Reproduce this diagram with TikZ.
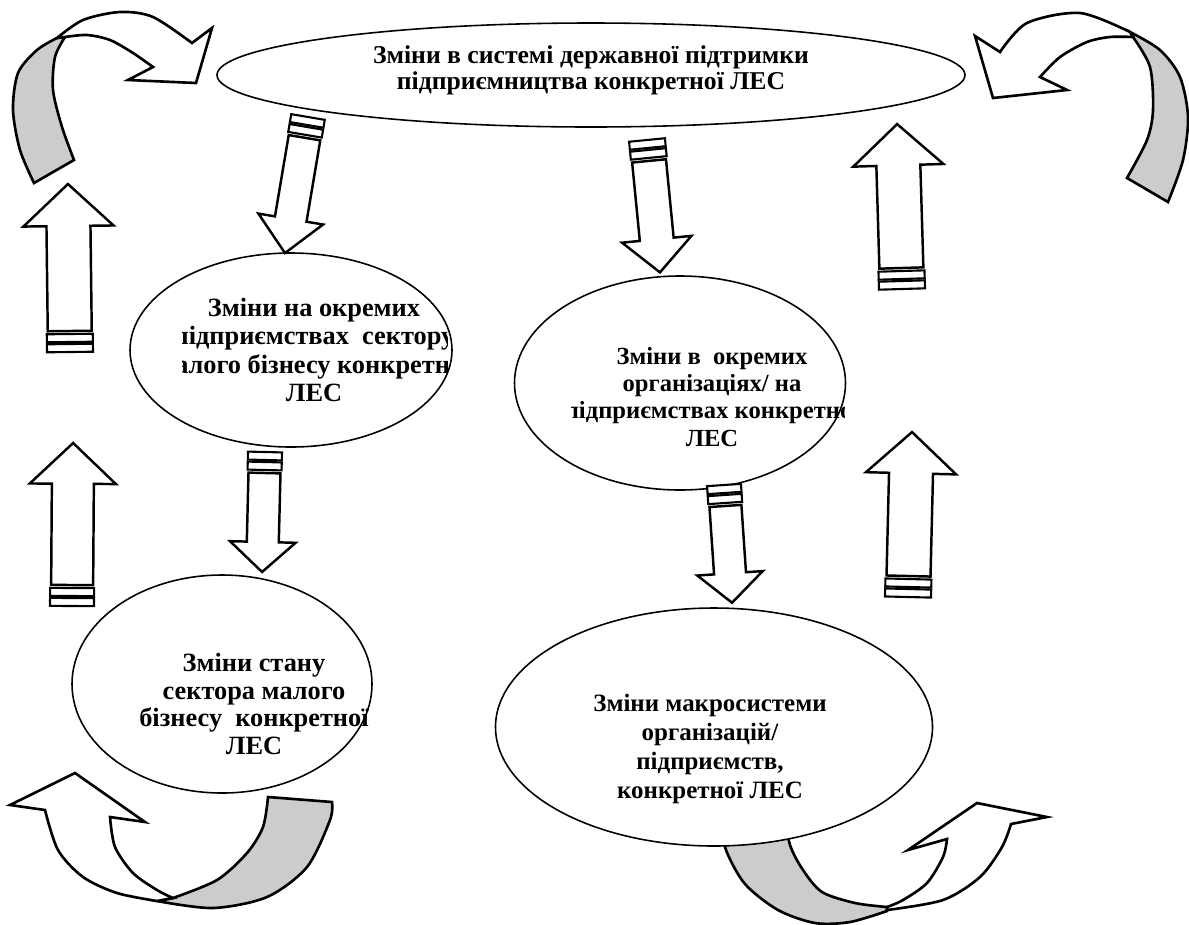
\documentclass[tikz,border=0pt]{standalone}
\usepackage{fontspec}
\setmainfont{Liberation Serif}
\usetikzlibrary{shapes.geometric}

\def\px{0.02cm}
% block arrow: (tail centre)(angle:length:half width of shaft)
\def\blockarrow(#1)(#2:#3:#4){%
	\begin{scope}[shift={(#1)}, rotate=#2]
		\draw[stripe] (-#4-1, 0) rectangle (#4+1, 8);
		\draw[stripe] (-#4-1, 10) rectangle (#4+1, 18);
		\draw[blockline] (-#4, 21) -- (-#4, 0.75*#3) -- (-2.05*#4, 0.75*#3) -- (0, #3)
			-- (2.05*#4, 0.75*#3) -- (#4, 0.75*#3) -- (#4, 21) -- cycle;
	\end{scope}}

\tikzset{
	stage/.style={draw, ellipse, line width=0.9pt, fill=white, inner sep=0pt},
	caption/.style={align=center, inner sep=0pt},
	blockline/.style={draw, line width=1.4pt, fill=white, line join=miter},
	stripe/.style={draw, line width=1.2pt, fill=white},
	ribbon/.style={draw, line width=1.5pt, fill=white, line join=miter},
	ribbonback/.style={ribbon, fill=black!20}
}

\begin{document}
\begin{tikzpicture}[x=0.02cm, y=-0.02cm]
	\useasboundingbox (0,0) rectangle (1189,924);
	
	%%%%% curved arrows %%%%%
	
	% top left
	\draw[ribbonback] plot[smooth] coordinates {(34,183) (20,150) (13,110) (18,73) (37,50) (57,38)}
		-- plot[smooth] coordinates {(65,37) (55,57) (53,90) (62,127) (74,160)} -- cycle;
	\draw[ribbon] plot[smooth] coordinates {(57,38) (83,20) (120,12) (153,17) (192,43)}
		-- (212,28) -- (196,83) -- (128,80) -- (153,67)
		-- plot[smooth] coordinates {(153,67) (133,53) (110,40) (87,35) (65,37)} -- cycle;
	
	% top right
	\draw[ribbonback] plot[smooth] coordinates {(1168,202) (1183,160) (1188,117) (1180,77) (1160,50) (1130,32)}
		-- plot[smooth] coordinates {(1133,37) (1150,67) (1153,110) (1147,140) (1127,178)} -- cycle;
	\draw[ribbon] plot[smooth] coordinates {(1130,32) (1080,13) (1027,23) (1000,52)}
		-- (975,36) -- (993,98) -- (1067,90) -- (1040,77)
		-- plot[smooth] coordinates {(1040,77) (1060,57) (1087,42) (1110,37) (1133,37)} -- cycle;
	
	% bottom left
	\draw[ribbonback] plot[smooth] coordinates {(157,901) (213,908) (267,897) (307,867) (330,820) (332,802)}
		-- plot[smooth] coordinates {(268,797) (263,827) (247,853) (217,880) (173,898)} -- cycle;
	\draw[ribbon] (10,805) -- (75,773) -- (145,822) -- (110,817)
		-- plot[smooth] coordinates {(110,817) (115,847) (133,873) (157,890) (173,898)}
		-- plot[smooth] coordinates {(157,901) (117,893) (83,877) (58,850) (45,810)} -- cycle;
	
	% bottom right
	\draw[ribbonback] plot[smooth] coordinates {(887,911) (850,922) (815,923) (778,910) (745,884) (726,850) (720,818)}
		-- plot[smooth] coordinates {(784,812) (790,845) (803,870) (822,892) (855,903) (887,907)} -- cycle;
	\draw[ribbon] (977,803) -- (1047,817) -- (1011,824)
		-- plot[smooth] coordinates {(1011,824) (1002,847) (980,877) (943,900) (887,910)}
		-- plot[smooth] coordinates {(887,907) (903,900) (927,883) (943,857) (947,839)}
		-- (908,850) -- cycle;
	
	%%%%% ellipses %%%%%
	
	\node[stage, minimum width=748*\px, minimum height=104*\px] (gov) at (591,75) {};
	\node[stage, minimum width=322*\px, minimum height=194*\px] (firms) at (291,350) {};
	\node[stage, minimum width=331*\px, minimum height=214*\px] (orgs) at (680,383) {};
	\node[stage, minimum width=300*\px, minimum height=218*\px] (sector) at (222,684) {};
	\node[stage, minimum width=437*\px, minimum height=238*\px] (macro) at (714,727) {};
	
	\node[caption, font=\fontsize{14.6}{14.8}\selectfont\bfseries] (gov-text) at (591,70)
		{Зміни в системі державної підтримки\\підприємництва конкретної ЛЕС};
	\begin{scope}
		\clip (182,280) rectangle (447,425);
		\node[caption, font=\fontsize{15}{16.3}\selectfont\bfseries] (firms-text) at (314,350)
			{Зміни на окремих\\підприємствах\ \ сектору\\малого бізнесу конкретної\\ЛЕС};
	\end{scope}
	\begin{scope}
		\clip (571,330) rectangle (844,470);
		\node[caption, font=\fontsize{14}{15.4}\selectfont\bfseries] (orgs-text) at (712,397)
			{Зміни в\ \ окремих\\організаціях/ на\\підприємствах конкретної\\ЛЕС};
	\end{scope}
	\node[caption, font=\fontsize{15}{15.6}\selectfont\bfseries] (sector-text) at (254,704)
		{Зміни стану\\сектора малого\\бізнесу\ \ конкретної\\ЛЕС};
	\node[caption, font=\fontsize{14.2}{16.5}\selectfont\bfseries] (macro-text) at (710,749)
		{Зміни макросистеми\\організацій/\\підприємств,\\конкретної ЛЕС};
	
	%%%%% block arrows %%%%%
	
	\blockarrow(308,117)(-9.6:138:16)
	\blockarrow(647,140)(5.6:133:17)
	\blockarrow(265,452)(-1.4:120:16)
	\blockarrow(724,485)(3.9:118:16)
	
	\blockarrow(902,289)(181.7:165:22)
	\blockarrow(908,597)(178.6:165:22)
	\blockarrow(70,352)(180.7:168:22)
	\blockarrow(72,606)(179.6:163:21)
\end{tikzpicture}
\end{document}
